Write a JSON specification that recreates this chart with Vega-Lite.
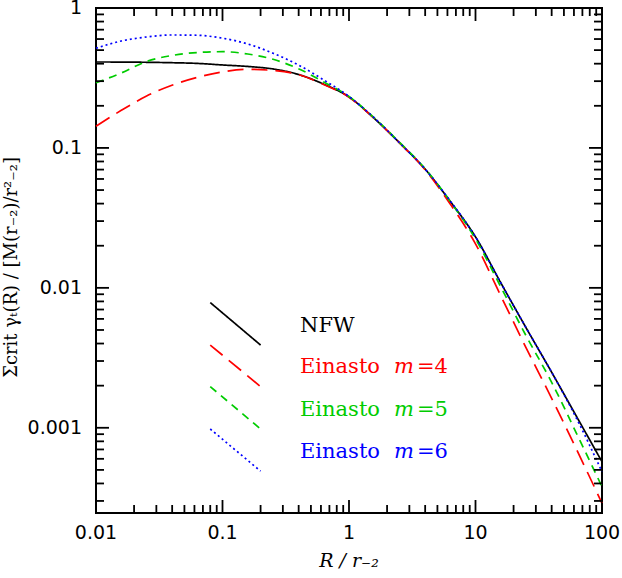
{
  "$schema": "https://vega.github.io/schema/vega-lite/v6.json",
  "width": 506,
  "height": 505,
  "autosize": {"type": "none"},
  "padding": {"left": 96, "top": 8, "right": 20, "bottom": 65},
  "background": "white",
  "config": {
    "view": {"stroke": "black", "strokeWidth": 2}
  },
  "datasets": {
    "curves": [
      {"model": "NFW", "R": 0.01, "y": 0.4114},
      {"model": "NFW", "R": 0.01585, "y": 0.4107},
      {"model": "NFW", "R": 0.02512, "y": 0.4093},
      {"model": "NFW", "R": 0.03981, "y": 0.4064},
      {"model": "NFW", "R": 0.0631, "y": 0.4019},
      {"model": "NFW", "R": 0.1, "y": 0.3916},
      {"model": "NFW", "R": 0.1585, "y": 0.3821},
      {"model": "NFW", "R": 0.2512, "y": 0.3667},
      {"model": "NFW", "R": 0.3981, "y": 0.335},
      {"model": "NFW", "R": 0.631, "y": 0.2856},
      {"model": "NFW", "R": 1, "y": 0.2313},
      {"model": "NFW", "R": 1.585, "y": 0.1624},
      {"model": "NFW", "R": 2.512, "y": 0.1086},
      {"model": "NFW", "R": 3.981, "y": 0.0708},
      {"model": "NFW", "R": 6.31, "y": 0.0415},
      {"model": "NFW", "R": 10, "y": 0.02314},
      {"model": "NFW", "R": 15.85, "y": 0.01086},
      {"model": "NFW", "R": 25.12, "y": 0.00518},
      {"model": "NFW", "R": 39.81, "y": 0.002512},
      {"model": "NFW", "R": 63.1, "y": 0.0011985},
      {"model": "NFW", "R": 100, "y": 0.000572},
      {"model": "Einasto m=4", "R": 0.01, "y": 0.1429},
      {"model": "Einasto m=4", "R": 0.01585, "y": 0.1856},
      {"model": "Einasto m=4", "R": 0.02512, "y": 0.2348},
      {"model": "Einasto m=4", "R": 0.03981, "y": 0.2804},
      {"model": "Einasto m=4", "R": 0.0631, "y": 0.3189},
      {"model": "Einasto m=4", "R": 0.1, "y": 0.3496},
      {"model": "Einasto m=4", "R": 0.1585, "y": 0.3649},
      {"model": "Einasto m=4", "R": 0.2512, "y": 0.3577},
      {"model": "Einasto m=4", "R": 0.3981, "y": 0.3344},
      {"model": "Einasto m=4", "R": 0.631, "y": 0.2842},
      {"model": "Einasto m=4", "R": 1, "y": 0.2302},
      {"model": "Einasto m=4", "R": 1.585, "y": 0.1624},
      {"model": "Einasto m=4", "R": 2.512, "y": 0.1086},
      {"model": "Einasto m=4", "R": 3.981, "y": 0.0702},
      {"model": "Einasto m=4", "R": 6.31, "y": 0.0398},
      {"model": "Einasto m=4", "R": 10, "y": 0.02062},
      {"model": "Einasto m=4", "R": 15.85, "y": 0.00877},
      {"model": "Einasto m=4", "R": 25.12, "y": 0.003727},
      {"model": "Einasto m=4", "R": 39.81, "y": 0.001638},
      {"model": "Einasto m=4", "R": 63.1, "y": 0.000696},
      {"model": "Einasto m=4", "R": 100, "y": 0.000289},
      {"model": "Einasto m=5", "R": 0.01, "y": 0.2922},
      {"model": "Einasto m=5", "R": 0.01585, "y": 0.3433},
      {"model": "Einasto m=5", "R": 0.02512, "y": 0.4148},
      {"model": "Einasto m=5", "R": 0.03981, "y": 0.4578},
      {"model": "Einasto m=5", "R": 0.0631, "y": 0.4808},
      {"model": "Einasto m=5", "R": 0.1, "y": 0.4873},
      {"model": "Einasto m=5", "R": 0.1585, "y": 0.4691},
      {"model": "Einasto m=5", "R": 0.2512, "y": 0.43},
      {"model": "Einasto m=5", "R": 0.3981, "y": 0.3684},
      {"model": "Einasto m=5", "R": 0.631, "y": 0.2961},
      {"model": "Einasto m=5", "R": 1, "y": 0.2332},
      {"model": "Einasto m=5", "R": 1.585, "y": 0.1638},
      {"model": "Einasto m=5", "R": 2.512, "y": 0.1095},
      {"model": "Einasto m=5", "R": 3.981, "y": 0.0714},
      {"model": "Einasto m=5", "R": 6.31, "y": 0.0415},
      {"model": "Einasto m=5", "R": 10, "y": 0.02239},
      {"model": "Einasto m=5", "R": 15.85, "y": 0.01016},
      {"model": "Einasto m=5", "R": 25.12, "y": 0.004541},
      {"model": "Einasto m=5", "R": 39.81, "y": 0.002131},
      {"model": "Einasto m=5", "R": 63.1, "y": 0.000906},
      {"model": "Einasto m=5", "R": 100, "y": 0.000379},
      {"model": "Einasto m=6", "R": 0.01, "y": 0.5154},
      {"model": "Einasto m=6", "R": 0.01585, "y": 0.5811},
      {"model": "Einasto m=6", "R": 0.02512, "y": 0.6207},
      {"model": "Einasto m=6", "R": 0.03981, "y": 0.6414},
      {"model": "Einasto m=6", "R": 0.0631, "y": 0.6383},
      {"model": "Einasto m=6", "R": 0.1, "y": 0.6086},
      {"model": "Einasto m=6", "R": 0.1585, "y": 0.5532},
      {"model": "Einasto m=6", "R": 0.2512, "y": 0.4746},
      {"model": "Einasto m=6", "R": 0.3981, "y": 0.3916},
      {"model": "Einasto m=6", "R": 0.631, "y": 0.306},
      {"model": "Einasto m=6", "R": 1, "y": 0.2332},
      {"model": "Einasto m=6", "R": 1.585, "y": 0.1638},
      {"model": "Einasto m=6", "R": 2.512, "y": 0.1086},
      {"model": "Einasto m=6", "R": 3.981, "y": 0.0708},
      {"model": "Einasto m=6", "R": 6.31, "y": 0.04182},
      {"model": "Einasto m=6", "R": 10, "y": 0.02314},
      {"model": "Einasto m=6", "R": 15.85, "y": 0.01086},
      {"model": "Einasto m=6", "R": 25.12, "y": 0.00518},
      {"model": "Einasto m=6", "R": 39.81, "y": 0.002512},
      {"model": "Einasto m=6", "R": 63.1, "y": 0.00116},
      {"model": "Einasto m=6", "R": 100, "y": 0.000485}
    ],
    "keys": [
      {"model": "NFW", "R": 0.08, "y": 0.00785},
      {"model": "NFW", "R": 0.2, "y": 0.0039},
      {"model": "Einasto m=4", "R": 0.08, "y": 0.0039},
      {"model": "Einasto m=4", "R": 0.2, "y": 0.00197},
      {"model": "Einasto m=5", "R": 0.08, "y": 0.00197},
      {"model": "Einasto m=5", "R": 0.2, "y": 0.00098},
      {"model": "Einasto m=6", "R": 0.08, "y": 0.00098},
      {"model": "Einasto m=6", "R": 0.2, "y": 0.00049}
    ],
    "labels": [
      {"model": "NFW", "txt": "NFW", "R": 0.41, "y": 0.00485},
      {"model": "Einasto m=4", "txt": "Einasto", "R": 0.41, "y": 0.00247},
      {"model": "Einasto m=4", "txt": "=4", "R": 3.447, "y": 0.00247},
      {"model": "Einasto m=5", "txt": "Einasto", "R": 0.41, "y": 0.001218},
      {"model": "Einasto m=5", "txt": "=5", "R": 3.447, "y": 0.001218},
      {"model": "Einasto m=6", "txt": "Einasto", "R": 0.41, "y": 0.000611},
      {"model": "Einasto m=6", "txt": "=6", "R": 3.447, "y": 0.000611}
    ],
    "labelsItalic": [
      {"model": "Einasto m=4", "txt": "m", "R": 2.268, "y": 0.00247},
      {"model": "Einasto m=5", "txt": "m", "R": 2.268, "y": 0.001218},
      {"model": "Einasto m=6", "txt": "m", "R": 2.268, "y": 0.000611}
    ],
    "xTitle": [{"t": "R / r₋₂"}],
    "yTitle": [{"t": "Σcrit γₜ(R) / [M(r₋₂)/r²₋₂]"}],
    "xMajor": [{"v": 0.01}, {"v": 0.1}, {"v": 1}, {"v": 10}, {"v": 100}],
    "xMinor": [
      {"v": 0.02}, {"v": 0.03}, {"v": 0.04}, {"v": 0.05}, {"v": 0.06}, {"v": 0.07}, {"v": 0.08}, {"v": 0.09},
      {"v": 0.2}, {"v": 0.3}, {"v": 0.4}, {"v": 0.5}, {"v": 0.6}, {"v": 0.7}, {"v": 0.8}, {"v": 0.9},
      {"v": 2}, {"v": 3}, {"v": 4}, {"v": 5}, {"v": 6}, {"v": 7}, {"v": 8}, {"v": 9},
      {"v": 20}, {"v": 30}, {"v": 40}, {"v": 50}, {"v": 60}, {"v": 70}, {"v": 80}, {"v": 90}
    ],
    "yMajor": [{"v": 0.001}, {"v": 0.01}, {"v": 0.1}, {"v": 1}],
    "yMinor": [
      {"v": 0.0003}, {"v": 0.0004}, {"v": 0.0005}, {"v": 0.0006}, {"v": 0.0007}, {"v": 0.0008}, {"v": 0.0009},
      {"v": 0.002}, {"v": 0.003}, {"v": 0.004}, {"v": 0.005}, {"v": 0.006}, {"v": 0.007}, {"v": 0.008}, {"v": 0.009},
      {"v": 0.02}, {"v": 0.03}, {"v": 0.04}, {"v": 0.05}, {"v": 0.06}, {"v": 0.07}, {"v": 0.08}, {"v": 0.09},
      {"v": 0.2}, {"v": 0.3}, {"v": 0.4}, {"v": 0.5}, {"v": 0.6}, {"v": 0.7}, {"v": 0.8}, {"v": 0.9}
    ]
  },
  "layer": [
    {
      "data": {"name": "curves"},
      "mark": {"type": "line", "interpolate": "monotone", "strokeWidth": 1.7},
      "encoding": {
        "x": {"field": "R", "type": "quantitative", "axis": null, "scale": {"type": "log", "domain": [0.01, 100], "nice": false}},
        "y": {"field": "y", "type": "quantitative", "axis": null, "scale": {"type": "log", "domain": [0.000246, 1], "nice": false}},
        "color": {
          "field": "model", "type": "nominal", "legend": null,
          "scale": {"domain": ["NFW", "Einasto m=4", "Einasto m=5", "Einasto m=6"], "range": ["black", "#ff0000", "#00cc00", "#0000ff"]}
        },
        "strokeDash": {
          "field": "model", "type": "nominal", "legend": null,
          "scale": {"domain": ["NFW", "Einasto m=4", "Einasto m=5", "Einasto m=6"], "range": [[1, 0], [16, 8], [8, 6], [2, 3]]}
        }
      }
    },
    {
      "data": {"name": "keys"},
      "mark": {"type": "line", "strokeWidth": 1.7},
      "encoding": {
        "x": {"field": "R", "type": "quantitative", "axis": null},
        "y": {"field": "y", "type": "quantitative", "axis": null},
        "color": {"field": "model", "type": "nominal", "legend": null},
        "strokeDash": {"field": "model", "type": "nominal", "legend": null}
      }
    },
    {
      "data": {"name": "labels"},
      "mark": {"type": "text", "font": "DejaVu Serif", "fontSize": 21, "align": "left", "baseline": "alphabetic"},
      "encoding": {
        "x": {"field": "R", "type": "quantitative", "axis": null},
        "y": {"field": "y", "type": "quantitative", "axis": null},
        "text": {"field": "txt"},
        "color": {"field": "model", "type": "nominal", "legend": null}
      }
    },
    {
      "data": {"name": "labelsItalic"},
      "mark": {"type": "text", "font": "DejaVu Serif", "fontStyle": "italic", "fontSize": 21, "align": "left", "baseline": "alphabetic"},
      "encoding": {
        "x": {"field": "R", "type": "quantitative", "axis": null},
        "y": {"field": "y", "type": "quantitative", "axis": null},
        "text": {"field": "txt"},
        "color": {"field": "model", "type": "nominal", "legend": null}
      }
    },
    {
      "data": {"name": "xMajor"},
      "mark": {"type": "text", "font": "DejaVu Sans", "fontSize": 19, "align": "center", "baseline": "top", "dy": 11, "color": "black"},
      "encoding": {
        "x": {"field": "v", "type": "quantitative", "axis": null},
        "y": {"datum": 0.000246, "type": "quantitative", "axis": null},
        "text": {"field": "v", "type": "quantitative", "format": "~g"}
      }
    },
    {
      "data": {"name": "yMajor"},
      "mark": {"type": "text", "font": "DejaVu Sans", "fontSize": 19, "align": "right", "baseline": "middle", "dx": -14, "color": "black"},
      "encoding": {
        "y": {"field": "v", "type": "quantitative", "axis": null},
        "x": {"datum": 0.01, "type": "quantitative", "axis": null},
        "text": {"field": "v", "type": "quantitative", "format": "~g"}
      }
    },
    {
      "data": {"name": "xTitle"},
      "mark": {"type": "text", "font": "DejaVu Serif", "fontStyle": "italic", "fontSize": 19, "align": "center", "baseline": "top", "dy": 39, "color": "black"},
      "encoding": {
        "x": {"datum": 1, "type": "quantitative", "axis": null},
        "y": {"datum": 0.000246, "type": "quantitative", "axis": null},
        "text": {"field": "t"}
      }
    },
    {
      "data": {"name": "yTitle"},
      "mark": {"type": "text", "font": "DejaVu Serif", "fontSize": 18, "align": "center", "baseline": "middle", "angle": 270, "dy": -84, "color": "black"},
      "encoding": {
        "x": {"datum": 0.01, "type": "quantitative", "axis": null},
        "y": {"datum": 0.014, "type": "quantitative", "axis": null},
        "text": {"field": "t"}
      }
    },
    {
      "data": {"name": "xMajor"},
      "mark": {"type": "tick", "orient": "vertical", "size": 26, "thickness": 1.8, "color": "black", "opacity": 1, "clip": true},
      "encoding": {
        "x": {"field": "v", "type": "quantitative", "axis": null},
        "y": {"datum": 0.000246, "type": "quantitative", "axis": null}
      }
    },
    {
      "data": {"name": "xMajor"},
      "mark": {"type": "tick", "orient": "vertical", "size": 26, "thickness": 1.8, "color": "black", "opacity": 1, "clip": true},
      "encoding": {
        "x": {"field": "v", "type": "quantitative", "axis": null},
        "y": {"datum": 1, "type": "quantitative", "axis": null}
      }
    },
    {
      "data": {"name": "xMinor"},
      "mark": {"type": "tick", "orient": "vertical", "size": 16, "thickness": 1.8, "color": "black", "opacity": 1, "clip": true},
      "encoding": {
        "x": {"field": "v", "type": "quantitative", "axis": null},
        "y": {"datum": 0.000246, "type": "quantitative", "axis": null}
      }
    },
    {
      "data": {"name": "xMinor"},
      "mark": {"type": "tick", "orient": "vertical", "size": 16, "thickness": 1.8, "color": "black", "opacity": 1, "clip": true},
      "encoding": {
        "x": {"field": "v", "type": "quantitative", "axis": null},
        "y": {"datum": 1, "type": "quantitative", "axis": null}
      }
    },
    {
      "data": {"name": "yMajor"},
      "mark": {"type": "tick", "orient": "horizontal", "size": 26, "thickness": 1.8, "color": "black", "opacity": 1, "clip": true},
      "encoding": {
        "y": {"field": "v", "type": "quantitative", "axis": null},
        "x": {"datum": 0.01, "type": "quantitative", "axis": null}
      }
    },
    {
      "data": {"name": "yMajor"},
      "mark": {"type": "tick", "orient": "horizontal", "size": 26, "thickness": 1.8, "color": "black", "opacity": 1, "clip": true},
      "encoding": {
        "y": {"field": "v", "type": "quantitative", "axis": null},
        "x": {"datum": 100, "type": "quantitative", "axis": null}
      }
    },
    {
      "data": {"name": "yMinor"},
      "mark": {"type": "tick", "orient": "horizontal", "size": 16, "thickness": 1.8, "color": "black", "opacity": 1, "clip": true},
      "encoding": {
        "y": {"field": "v", "type": "quantitative", "axis": null},
        "x": {"datum": 0.01, "type": "quantitative", "axis": null}
      }
    },
    {
      "data": {"name": "yMinor"},
      "mark": {"type": "tick", "orient": "horizontal", "size": 16, "thickness": 1.8, "color": "black", "opacity": 1, "clip": true},
      "encoding": {
        "y": {"field": "v", "type": "quantitative", "axis": null},
        "x": {"datum": 100, "type": "quantitative", "axis": null}
      }
    }
  ]
}
